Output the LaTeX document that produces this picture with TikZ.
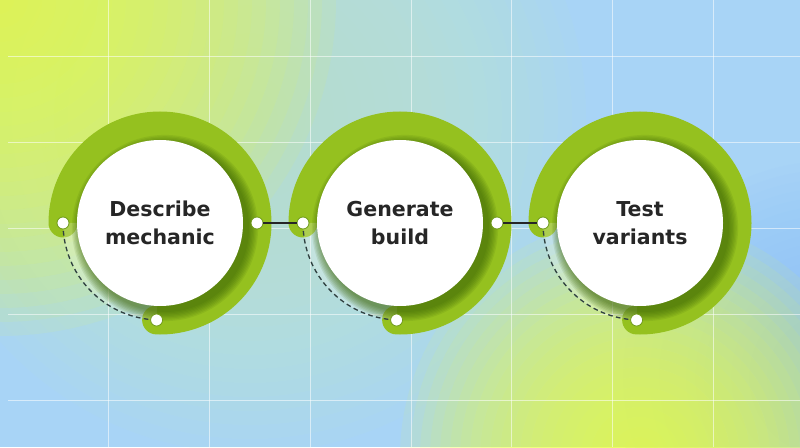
\documentclass[tikz,border=0pt]{standalone}
\usepackage{fontspec}
\newfontfamily\labelfont{DejaVu Sans}

\definecolor{ringgreen}{HTML}{95C11F}
\definecolor{shadegreen}{HTML}{3A6405}
\definecolor{dotgreen}{HTML}{6E9A18}
\definecolor{inkgray}{HTML}{262626}
\definecolor{trailgray}{HTML}{2F4040}
\definecolor{skyblue}{HTML}{A8D4F6}
\definecolor{mint}{HTML}{C2EACB}
\definecolor{lime}{HTML}{E8FD4C}
\definecolor{deepblue}{HTML}{8CC0F6}

\begin{document}
\begin{tikzpicture}[x=0.75pt, y=0.75pt,
	disc/.style={circle, fill=white, minimum size=124.5pt, inner sep=0pt, align=center, text=inkgray, font=\labelfont\bfseries\fontsize{15.4}{21}\selectfont},
	dot/.style={circle, fill=white, draw=dotgreen, line width=0.6pt, minimum size=9pt, inner sep=0pt},
	ring/.style={draw=ringgreen, line width=21.75pt, line cap=round},
	link/.style={draw=inkgray, line width=1.8pt},
	trail/.style={draw=trailgray, line width=1pt, dash pattern=on 3.5pt off 2.5pt},
	gridline/.style={white, opacity=0.55, line width=0.75pt}]
	\useasboundingbox (0,0) rectangle (800,447);
	
	%background
	\begin{scope}
		\clip (0,0) rectangle (800,447);
		\fill[skyblue] (0,0) rectangle (800,447);
		\foreach \k in {1,...,24}{
			\fill[mint, opacity=0.07] (250,330) circle (\k*14);
			\fill[deepblue, opacity=0.06] (830,70) circle (\k*9);
		}
		\foreach \k in {1,...,24}{
			\fill[lime, opacity=0.085] (0,447) circle (\k*14);
			\fill[lime, opacity=0.085] (640,-10) circle (\k*10);
		}
	\end{scope}
	
	%grid
	\foreach \x in {108, 209, 310, 411, 511, 612, 713}{
		\draw[gridline] (\x,0)--(\x,447);
	}
	\foreach \y in {47, 133, 218, 304, 390}{
		\draw[gridline] (8,\y)--(800,\y);
	}
	
	%stages
	\foreach \i/\x/\txt in {1/160/{Describe\\mechanic}, 2/400/{Generate\\build}, 3/640/{Test\\variants}}{
		\draw[ring] (\x,224) ++(180:97) arc[start angle=180, end angle=-92, radius=97];
		\draw[white, opacity=0.22, line width=10.5pt] (\x,224) ++(180:90) arc[start angle=180, end angle=268, radius=90];
		\foreach \k in {0,...,7}{
			\fill[shadegreen, opacity=0.11] (\x+5,219) circle (84+\k*1.3);
		}
		\node (c\i) at (\x,224) [disc]{\txt};
		\draw[trail] (\x-97,224) arc[start angle=180, end angle=268, radius=97];
		\node (l\i) at (\x-97,224) [dot]{};
		\node (b\i) at (\x-3.4,127) [dot]{};
	}
	\node (r1) at (257,224) [dot]{};
	\node (r2) at (497,224) [dot]{};
	
	\draw[link] (r1)--(l2);
	\draw[link] (r2)--(l3);
\end{tikzpicture}
\end{document}
